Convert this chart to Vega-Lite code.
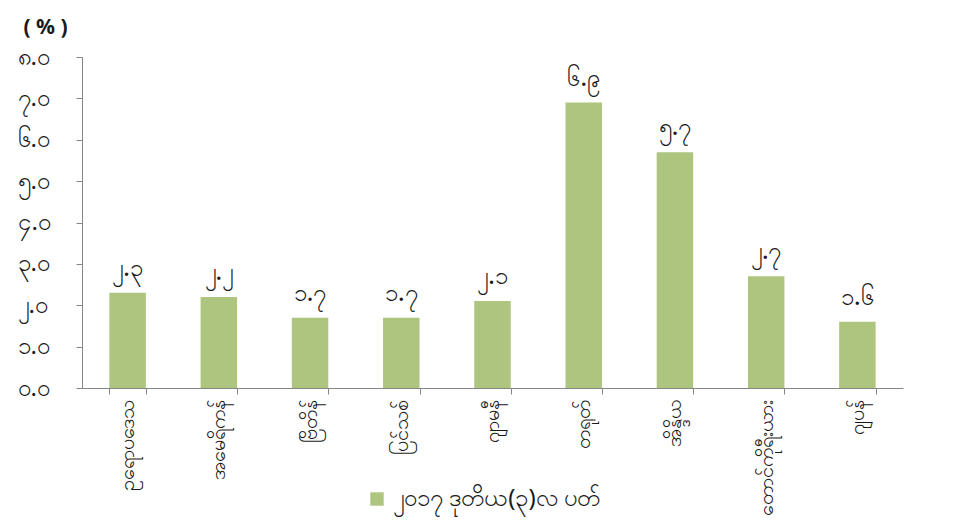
{
  "$schema": "https://vega.github.io/schema/vega-lite/v6.json",
  "width": 821,
  "height": 331,
  "autosize": {"type": "none"},
  "padding": {"left": 82, "top": 57, "right": 57, "bottom": 140},
  "background": "white",
  "config": {
    "font": "Noto Sans",
    "view": {"stroke": null},
    "axis": {"domainColor": "#868686", "tickColor": "#868686", "labelColor": "#1a1a1a", "grid": false}
  },
  "data": {
    "values": [
      {"c": "ဥရောပဒေသ", "v": 2.3, "t": "၂.၃", "s": "၂၀၁၇ ဒုတိယ(၃)လ ပတ်"},
      {"c": "အမေရိကန်", "v": 2.2, "t": "၂.၂", "s": "၂၀၁၇ ဒုတိယ(၃)လ ပတ်"},
      {"c": "ဗြိတိန်", "v": 1.7, "t": "၁.၇", "s": "၂၀၁၇ ဒုတိယ(၃)လ ပတ်"},
      {"c": "ပြင်သစ်", "v": 1.7, "t": "၁.၇", "s": "၂၀၁၇ ဒုတိယ(၃)လ ပတ်"},
      {"c": "ဂျာမနီ", "v": 2.1, "t": "၂.၁", "s": "၂၀၁၇ ဒုတိယ(၃)လ ပတ်"},
      {"c": "တရုတ်", "v": 6.9, "t": "၆.၉", "s": "၂၀၁၇ ဒုတိယ(၃)လ ပတ်"},
      {"c": "အိန္ဒိယ", "v": 5.7, "t": "၅.၇", "s": "၂၀၁၇ ဒုတိယ(၃)လ ပတ်"},
      {"c": "တောင်ကိုရီးယား", "v": 2.7, "t": "၂.၇", "s": "၂၀၁၇ ဒုတိယ(၃)လ ပတ်"},
      {"c": "ဂျပန်", "v": 1.6, "t": "၁.၆", "s": "၂၀၁၇ ဒုတိယ(၃)လ ပတ်"}
    ]
  },
  "encoding": {
    "x": {
      "field": "c", "type": "nominal", "sort": null,
      "scale": {"paddingInner": 0.6, "paddingOuter": 0.3},
      "axis": {"title": null, "labelAngle": -90, "labelAlign": "right", "labelBaseline": "middle", "labelFontSize": 20, "labelPadding": 5, "tickBand": "extent", "tickSize": 6}
    },
    "y": {
      "field": "v", "type": "quantitative",
      "scale": {"domain": [0, 8], "nice": false},
      "axis": {
        "values": [0, 1, 2, 3, 4, 5, 6, 7, 8],
        "labelExpr": "['၀','၁','၂','၃','၄','၅','၆','၇','၈'][datum.value] + '.၀'",
        "labelFontSize": 24, "labelAlign": "left", "labelPadding": 59, "tickSize": 6,
        "title": "( % )", "titleAngle": 0, "titleAlign": "left", "titleBaseline": "alphabetic",
        "titleX": -59, "titleY": -24, "titleFontSize": 21, "titleFontWeight": "bold", "titleColor": "#1a1a1a"
      }
    }
  },
  "layer": [
    {
      "mark": {"type": "bar", "color": "#aec57f"},
      "encoding": {
        "color": {
          "field": "s", "type": "nominal",
          "scale": {"range": ["#aec57f"]},
          "legend": {"title": null, "orient": "none", "legendX": 283, "legendY": 430, "symbolType": "square", "symbolSize": 180, "labelFontSize": 24, "labelLimit": 0, "labelColor": "#1a1a1a", "symbolStrokeWidth": 0}
        }
      }
    },
    {
      "mark": {"type": "text", "baseline": "bottom", "dy": -12, "fontSize": 24, "fontWeight": 500, "color": "#1a1a1a"},
      "encoding": {"text": {"field": "t"}}
    }
  ]
}
